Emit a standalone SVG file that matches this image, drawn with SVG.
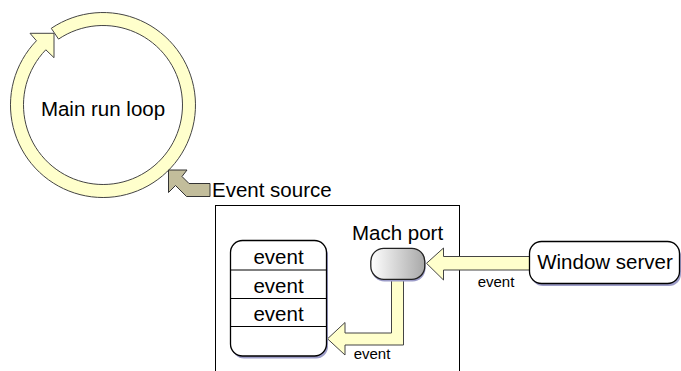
<svg xmlns="http://www.w3.org/2000/svg" width="681" height="371" viewBox="0 0 681 371">
<defs>
<style>
.lbl{font-family:"Liberation Sans",Arial,Helvetica,sans-serif;font-size:20.5px;fill:#000;}
.sm{font-family:"Liberation Sans",Arial,Helvetica,sans-serif;font-size:15px;fill:#000;}
.yarrow{fill:#FFFFCC;stroke:#444;stroke-width:1;stroke-linejoin:miter;}
.box{fill:#fff;stroke:#000;stroke-width:1.3;}
.shadow{fill:#9c9cc8;}
</style>
<linearGradient id="portGrad" x1="0" y1="0" x2="1" y2="0">
<stop offset="0" stop-color="#ffffff"/>
<stop offset="1" stop-color="#a8a8a8"/>
</linearGradient>
</defs>
<rect width="681" height="371" fill="#fff"/>

<g id="node-runloop">
<path class="yarrow" d="M51.27,28.32 A92.5,92.5 0 1 1 36.46,40.74 L30,33.3 L54,33.3 L54,57.7 L45.81,49.77 A79.5,79.5 0 1 0 58.54,39.09 Z"/>
<text class="lbl" x="103" y="115.5" text-anchor="middle">Main run loop</text>
</g>

<g id="node-eventsource">
<rect x="215.5" y="205.5" width="244" height="200" fill="#fff" stroke="#000" stroke-width="1"/>
<text class="lbl" x="212" y="196.5">Event source</text>
</g>

<g id="connectors">
<path d="M168.5,170 L187,170 L182,176.5 L189,183.5 L210,183.5 L210,196.5 L186.5,196.5 L175.5,185.5 L168.5,192.5 Z" fill="#C2BD9B" stroke="#333" stroke-width="1"/>
<path class="yarrow" d="M391.5,274 L403.5,274 L403.5,345 L345,345 L345,355 L327.5,338.8 L345,322.5 L345,333 L391.5,333 Z"/>
<path class="yarrow" d="M531,256.5 L443.5,256.5 L443.5,248 L426.5,263.3 L443.5,280 L443.5,270 L531,270 Z"/>
<text class="sm" x="372" y="359" text-anchor="middle">event</text>
<text class="sm" x="496" y="286.5" text-anchor="middle">event</text>
</g>

<g id="node-queue">
<rect class="shadow" x="232" y="243" width="96" height="115.5" rx="12"/>
<rect class="box" x="230.5" y="240.5" width="96" height="115.5" rx="12"/>
<line x1="230.5" y1="270" x2="326.5" y2="270" stroke="#000" stroke-width="1"/>
<line x1="230.5" y1="298.5" x2="326.5" y2="298.5" stroke="#000" stroke-width="1"/>
<line x1="230.5" y1="326.5" x2="326.5" y2="326.5" stroke="#000" stroke-width="1"/>
<text class="lbl" x="278.5" y="264" text-anchor="middle">event</text>
<text class="lbl" x="278.5" y="292.5" text-anchor="middle">event</text>
<text class="lbl" x="278.5" y="321" text-anchor="middle">event</text>
</g>

<g id="node-machport">
<rect class="shadow" x="371.5" y="250.5" width="54" height="31" rx="13"/>
<rect x="370.8" y="248.3" width="54" height="31" rx="13" fill="url(#portGrad)" stroke="#222" stroke-width="1.3"/>
<text class="lbl" x="397.5" y="240" text-anchor="middle">Mach port</text>
</g>

<g id="node-windowserver">
<rect class="shadow" x="531" y="244" width="150" height="42" rx="12"/>
<rect class="box" x="529.5" y="241.5" width="150" height="42" rx="12"/>
<text class="lbl" x="605" y="268.5" text-anchor="middle">Window server</text>
</g>
</svg>
